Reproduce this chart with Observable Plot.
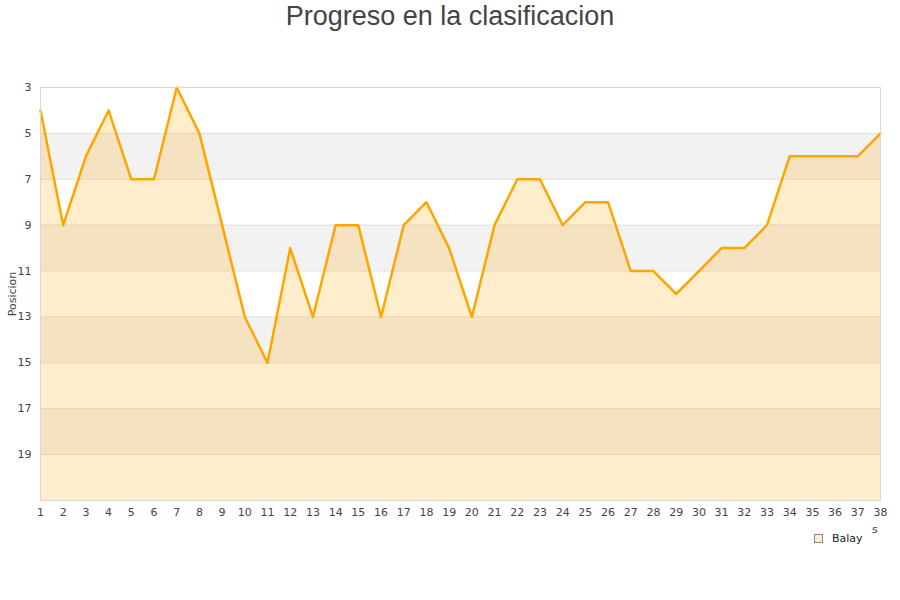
<!DOCTYPE html>
<html>
<head>
<meta charset="utf-8">
<script src="https://cdn.jsdelivr.net/npm/d3@7"></script>
<script src="https://cdn.jsdelivr.net/npm/@observablehq/plot@0.6"></script>
<style>
  html, body { margin: 0; padding: 0; background: #fff; }
  #wrap { position: relative; width: 900px; height: 600px; overflow: hidden; }
  #title { position: absolute; left: 0; top: 0; width: 900px; text-align: center;
    font-family: "Liberation Sans", Arial, sans-serif; font-size: 27px; color: #444; line-height: 32px; }
  #legend { position: absolute; left: 814px; top: 532px; font-family: "DejaVu Sans", sans-serif;
    font-size: 11px; color: #222; display: flex; align-items: center; }
  #legend .sw { width: 7px; height: 7px; background: #ffeccb; border: 1px solid #888; margin-right: 9px; }
  #stray { position: absolute; left: 872px; top: 523px; font-family: "DejaVu Sans", sans-serif; font-size: 11px; color: #444; }
  #plot { position: absolute; left: 0; top: 0; }
</style>
</head>
<body>
<div id="wrap">
  <div id="plot"></div>
  <div id="title">Progreso en la clasificacion</div>
  <div id="legend"><span class="sw"></span><span>Balay</span></div>
  <div id="stray">s</div>
</div>
<script>
const jornadas = Array.from({length: 38}, (_, i) => i + 1);
const posiciones = [4, 9, 6, 4, 7, 7, 3, 5, 9, 13, 15, 10, 13, 9, 9, 13, 9, 8, 10, 13,
                    9, 7, 7, 9, 8, 8, 11, 11, 12, 11, 10, 10, 9, 6, 6, 6, 6, 5];
const yTicks = [3, 5, 7, 9, 11, 13, 15, 17, 19];
const bandStarts = [5, 9, 13, 17];
const gridLines = [5, 7, 9, 11, 13, 15, 17, 19];
const yMin = 3, yMax = 21;

const data = jornadas.map((j, i) => ({jornada: j, pos: posiciones[i]}));

const chart = Plot.plot({
  width: 900,
  height: 600,
  marginTop: 87,
  marginBottom: 100,
  marginLeft: 40,
  marginRight: 20,
  style: {fontFamily: "DejaVu Sans, sans-serif", fontSize: "11px", color: "#444", background: "transparent"},
  x: {domain: [1, 38]},
  y: {domain: [yMin, yMax], reverse: true},
  marks: [
    Plot.rect(bandStarts, {x1: 1, x2: 38, y1: d => d, y2: d => d + 2, fill: "#f2f2f2"}),
    Plot.ruleY(gridLines, {stroke: "#e0e0e0", strokeWidth: 1}),
    Plot.areaY(data, {x: "jornada", y1: yMax, y2: "pos", fill: "#ffa500", fillOpacity: 0.2}),
    Plot.line(data, {x: "jornada", y: "pos", stroke: "#ffa500", strokeWidth: 2.5}),
    Plot.frame({stroke: "#d8d8d8"}),
    Plot.axisX(jornadas, {tickSize: 0, tickPadding: 8, label: null, fill: "#444"}),
    Plot.axisY(yTicks, {tickSize: 0, tickPadding: 9, label: "Posicion", labelAnchor: "center",
      labelArrow: "none", labelOffset: 32, fill: "#444"})
  ]
});
document.getElementById("plot").appendChild(chart);
</script>
</body>
</html>
